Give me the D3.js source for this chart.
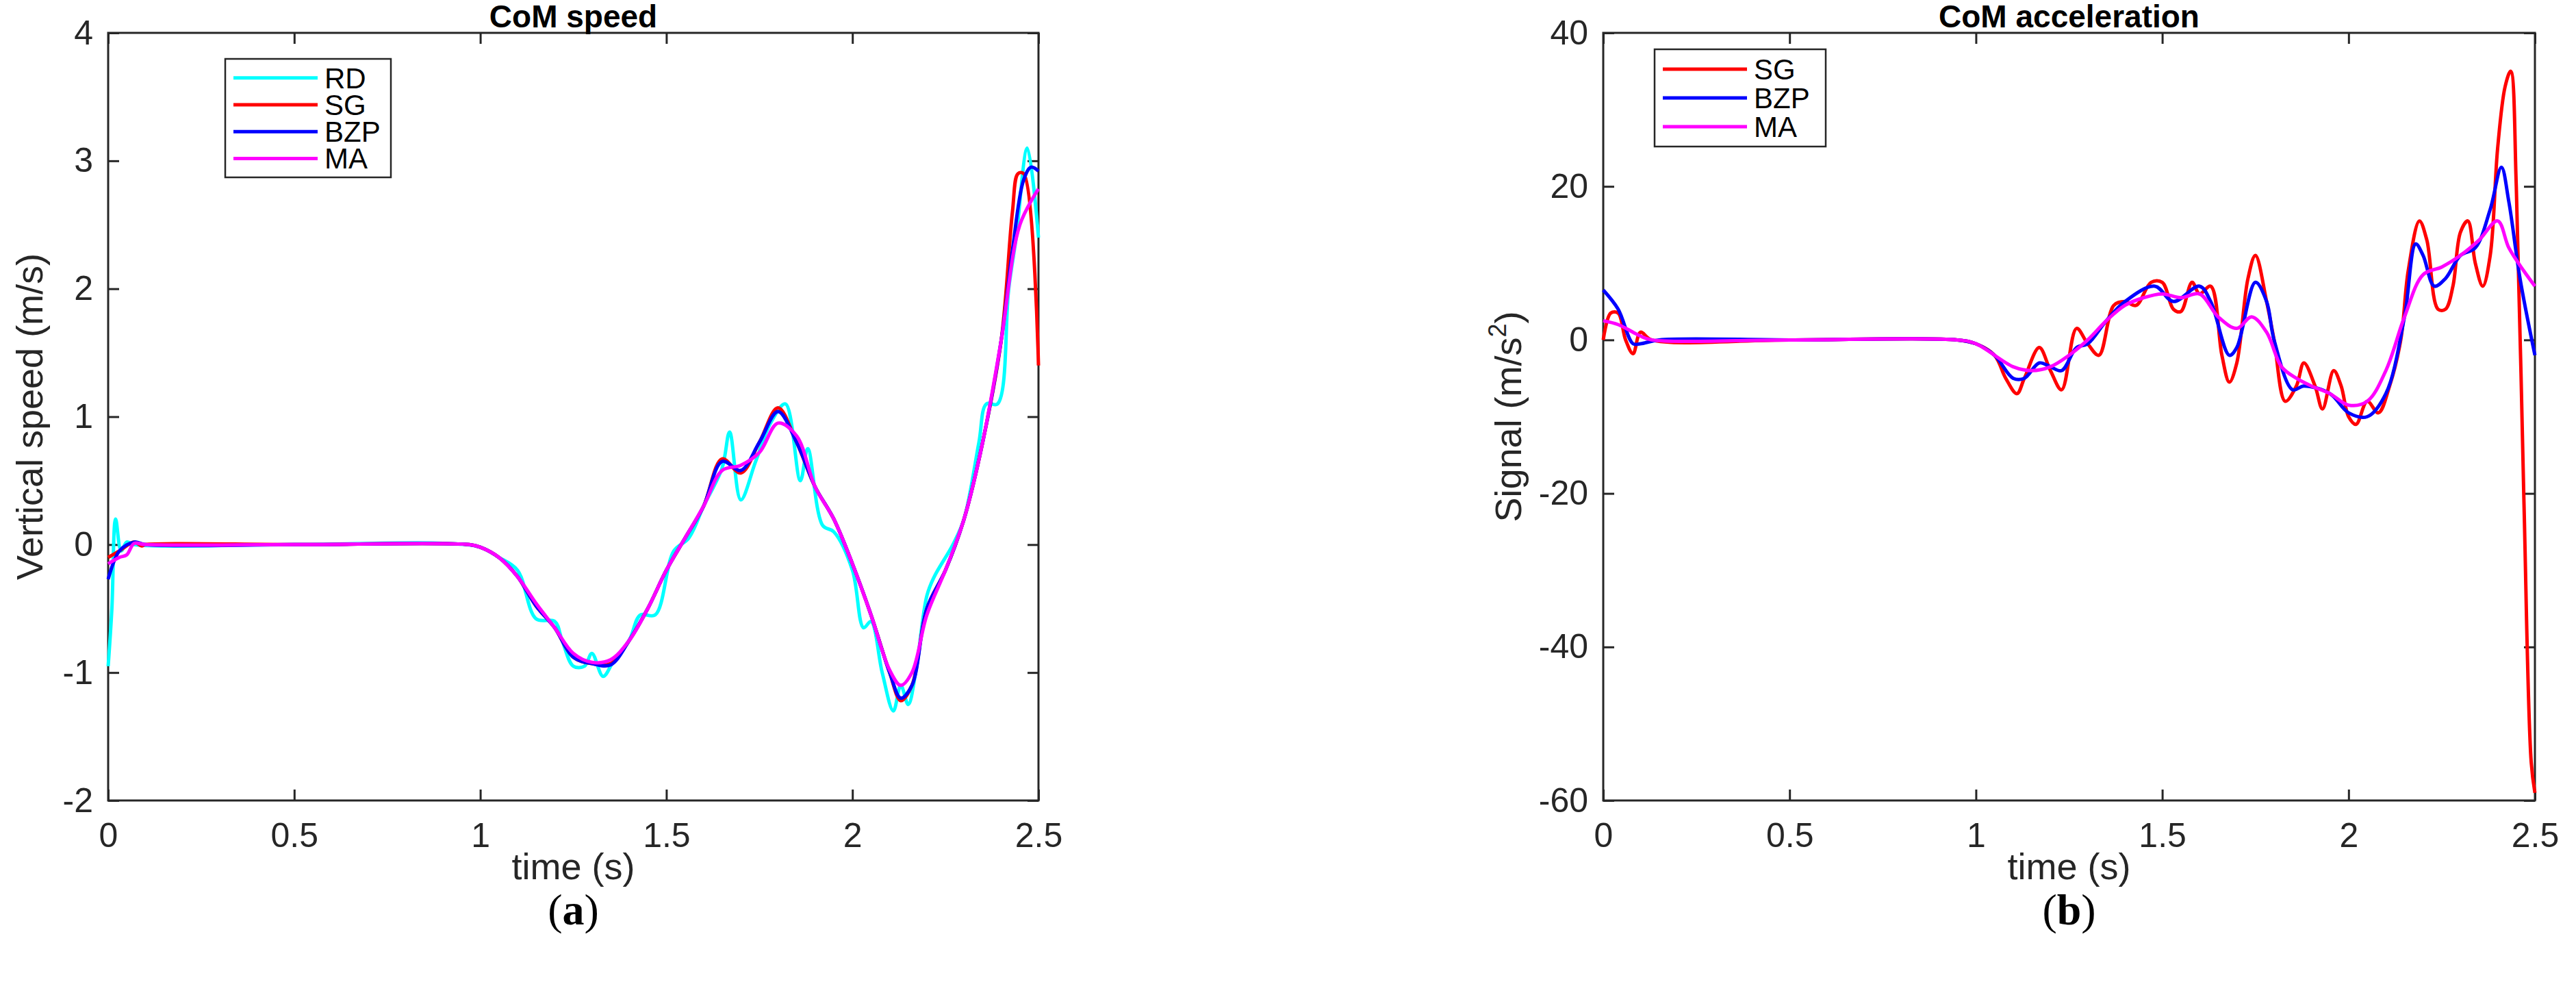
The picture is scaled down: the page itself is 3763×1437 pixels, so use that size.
<!DOCTYPE html>
<html><head><meta charset="utf-8">
<script src="https://cdn.jsdelivr.net/npm/d3@7"></script>
<style>body{margin:0;background:#fff}</style></head>
<body><svg id="c" width="3763" height="1437"></svg>
<script>
// ---- data ----
const speedRD = [[0,-0.95],[0.01,-0.5],[0.02,0.2],[0.035,-0.05],[0.05,0.02],[0.07,0],[0.5,0],[0.9,0.01],[1.0,-0.02],[1.05,-0.1],[1.1,-0.2],[1.15,-0.58],[1.2,-0.6],[1.22,-0.75],[1.25,-0.95],[1.28,-0.95],[1.3,-0.85],[1.33,-1.03],[1.36,-0.9],[1.4,-0.75],[1.43,-0.55],[1.47,-0.55],[1.52,-0.05],[1.56,0.05],[1.6,0.3],[1.65,0.6],[1.67,0.88],[1.7,0.35],[1.74,0.65],[1.78,0.95],[1.82,1.1],[1.86,0.5],[1.88,0.75],[1.92,0.15],[1.95,0.1],[2.0,-0.2],[2.03,-0.65],[2.05,-0.6],[2.08,-1.0],[2.11,-1.3],[2.13,-1.1],[2.15,-1.25],[2.17,-1.0],[2.2,-0.4],[2.22,-0.25],[2.27,0],[2.3,0.2],[2.34,0.8],[2.36,1.1],[2.39,1.1],[2.42,2.0],[2.44,2.4],[2.47,3.1],[2.5,2.4]];
const speedSG = [[0,-0.1],[0.03,-0.05],[0.07,0.02],[0.09,-0.01],[0.1,0],[0.5,0],[0.97,0],[1.0,-0.02],[1.05,-0.1],[1.1,-0.25],[1.15,-0.48],[1.2,-0.65],[1.25,-0.88],[1.3,-0.93],[1.35,-0.93],[1.4,-0.75],[1.45,-0.5],[1.5,-0.2],[1.55,0.05],[1.6,0.3],[1.65,0.67],[1.7,0.56],[1.75,0.8],[1.8,1.07],[1.85,0.8],[1.9,0.45],[1.95,0.2],[2.0,-0.15],[2.05,-0.55],[2.1,-1.0],[2.13,-1.22],[2.16,-1.1],[2.2,-0.5],[2.25,-0.2],[2.3,0.2],[2.35,0.8],[2.4,1.6],[2.43,2.6],[2.445,2.9],[2.46,2.9],[2.5,1.4]];
const speedBZP = [[0,-0.27],[0.03,-0.05],[0.07,0.02],[0.1,0],[0.5,0],[0.97,0],[1.0,-0.02],[1.05,-0.1],[1.1,-0.25],[1.15,-0.48],[1.2,-0.65],[1.25,-0.88],[1.3,-0.93],[1.35,-0.94],[1.4,-0.75],[1.45,-0.5],[1.5,-0.2],[1.55,0.05],[1.6,0.3],[1.65,0.65],[1.7,0.58],[1.75,0.8],[1.8,1.04],[1.85,0.8],[1.9,0.45],[1.95,0.2],[2.0,-0.15],[2.05,-0.55],[2.1,-1.0],[2.13,-1.2],[2.16,-1.1],[2.2,-0.5],[2.25,-0.2],[2.3,0.2],[2.35,0.8],[2.4,1.6],[2.43,2.3],[2.46,2.85],[2.48,2.95],[2.5,2.92]];
const speedMA = [[0,-0.15],[0.03,-0.1],[0.05,-0.08],[0.07,0.01],[0.1,0],[0.5,0],[0.97,0],[1.0,-0.02],[1.05,-0.1],[1.1,-0.25],[1.15,-0.46],[1.2,-0.65],[1.25,-0.85],[1.3,-0.92],[1.35,-0.9],[1.4,-0.75],[1.45,-0.5],[1.5,-0.2],[1.55,0.05],[1.6,0.3],[1.65,0.58],[1.7,0.62],[1.75,0.72],[1.8,0.95],[1.85,0.85],[1.9,0.45],[1.95,0.2],[2.0,-0.15],[2.05,-0.55],[2.1,-0.98],[2.13,-1.1],[2.16,-1.0],[2.2,-0.55],[2.25,-0.2],[2.3,0.2],[2.35,0.8],[2.4,1.6],[2.45,2.5],[2.5,2.78]];

const accSG = [[0,0],[0.02,3.5],[0.04,3.5],[0.06,0],[0.08,-1.8],[0.1,1],[0.13,0],[0.5,0],[0.95,0],[1.0,-0.5],[1.05,-2],[1.08,-5],[1.11,-7],[1.13,-5],[1.17,-1],[1.2,-4],[1.23,-6.5],[1.27,1.5],[1.3,-0.5],[1.33,-2],[1.37,4.5],[1.4,5],[1.43,4.5],[1.47,7.5],[1.5,7.5],[1.53,4],[1.55,3.7],[1.58,7.5],[1.6,6],[1.63,7],[1.66,-2],[1.68,-5.5],[1.7,-3],[1.73,8],[1.75,11],[1.78,5],[1.8,0],[1.83,-8],[1.86,-6],[1.88,-3],[1.91,-6],[1.93,-9],[1.96,-4],[1.98,-6],[2.0,-10],[2.02,-11],[2.05,-8],[2.08,-9.5],[2.11,-6],[2.14,0],[2.16,9],[2.19,15.5],[2.21,13],[2.24,4],[2.26,4],[2.28,7],[2.3,14],[2.32,15.5],[2.34,10],[2.36,7],[2.38,11],[2.4,25],[2.42,33],[2.435,35],[2.45,20],[2.47,-20],[2.49,-55],[2.5,-59]];
const accBZP = [[0,6.5],[0.04,4],[0.08,-0.5],[0.1,-0.5],[0.15,0],[0.5,0],[0.95,0],[1.0,-0.5],[1.05,-2],[1.1,-5],[1.13,-5],[1.17,-3],[1.2,-3.5],[1.23,-4],[1.27,-1],[1.3,-0.5],[1.35,2.5],[1.4,5],[1.48,7],[1.53,5],[1.6,7],[1.63,5],[1.68,-2],[1.7,-1],[1.75,7.5],[1.78,5],[1.8,0],[1.85,-6.5],[1.88,-6],[1.95,-7],[2.0,-9.5],[2.05,-10],[2.1,-7],[2.15,3],[2.18,12.5],[2.2,11],[2.23,7],[2.26,8],[2.3,11],[2.34,12],[2.38,17],[2.41,22.5],[2.43,18],[2.46,8],[2.5,-2]];
const accMA = [[0,2.5],[0.04,2],[0.08,1],[0.1,0.5],[0.13,0],[0.5,0],[0.95,0],[1.0,-0.5],[1.1,-3.5],[1.15,-4],[1.2,-3.5],[1.25,-2],[1.3,0],[1.35,2.5],[1.4,4.5],[1.45,5.5],[1.5,6],[1.55,5.5],[1.6,6],[1.65,3],[1.7,1.5],[1.74,3],[1.78,1],[1.82,-3.5],[1.86,-5],[1.9,-6],[1.95,-7],[2.0,-8.5],[2.05,-8],[2.1,-4],[2.15,3],[2.2,8.5],[2.25,9.5],[2.3,11],[2.35,13],[2.4,15.5],[2.43,12],[2.47,9],[2.5,7]];

const xTicks = [0, 0.5, 1, 1.5, 2, 2.5];
const speedTicks = [-2, -1, 0, 1, 2, 3, 4];
const accTicks = [-60, -40, -20, 0, 20, 40];

const colors = {RD: "#00ffff", SG: "#ff0000", BZP: "#0000ff", MA: "#ff00ff"};

const svg = d3.select("#c");
const font = "'Liberation Sans', Arial, sans-serif";
const fmt = d => String(d); // plain hyphen minus, like MATLAB

function panel(opt) {
  const {left, right, top, bottom} = opt;
  const x = d3.scaleLinear().domain([0, 2.5]).range([left, right]);
  const y = d3.scaleLinear().domain(opt.yDomain).range([bottom, top]);
  const g = svg.append("g");
  const tl = 16;

  g.append("rect").attr("x", left).attr("y", top).attr("width", right - left).attr("height", bottom - top)
    .attr("fill", "none").attr("stroke", "#262626").attr("stroke-width", 3);

  const ax = g.append("g").attr("transform", `translate(0,${bottom})`)
    .call(d3.axisBottom(x).tickValues(xTicks).tickSize(-tl).tickPadding(32).tickFormat(fmt));
  const axT = g.append("g").attr("transform", `translate(0,${top})`)
    .call(d3.axisTop(x).tickValues(xTicks).tickSize(-tl).tickFormat(""));
  const ay = g.append("g").attr("transform", `translate(${left},0)`)
    .call(d3.axisLeft(y).tickValues(opt.yTicks).tickSize(-tl).tickPadding(22).tickFormat(fmt));
  const ayR = g.append("g").attr("transform", `translate(${right},0)`)
    .call(d3.axisRight(y).tickValues(opt.yTicks).tickSize(-tl).tickFormat(""));
  [ax, axT, ay, ayR].forEach(a => {
    a.select(".domain").remove();
    a.selectAll("line").attr("stroke", "#262626").attr("stroke-width", 3);
    a.selectAll("text").attr("font-family", font).attr("font-size", 50).attr("fill", "#262626");
  });

  const line = d3.line().x(d => x(d[0])).y(d => y(d[1])).curve(d3.curveCatmullRom);
  opt.series.forEach(s => {
    g.append("path").datum(s.data).attr("d", line).attr("fill", "none")
      .attr("stroke", colors[s.name]).attr("stroke-width", 5).attr("stroke-linejoin", "round");
  });

  g.append("text").attr("x", (left + right) / 2).attr("y", 40).attr("text-anchor", "middle")
    .attr("font-family", font).attr("font-weight", "bold").attr("font-size", 46).text(opt.title);
  g.append("text").attr("x", (left + right) / 2).attr("y", 1284).attr("text-anchor", "middle")
    .attr("font-family", font).attr("font-size", 54).attr("fill", "#262626").text("time (s)");
  const yl = g.append("text").attr("transform", `translate(${opt.ylX},${(top + bottom) / 2}) rotate(-90)`)
    .attr("text-anchor", "middle").attr("font-family", font).attr("font-size", 54).attr("fill", "#262626");
  opt.ylabel(yl);
  g.append("text").attr("x", (left + right) / 2).attr("y", 1350).attr("text-anchor", "middle")
    .attr("font-family", "'Liberation Serif', 'Times New Roman', serif").attr("font-size", 64)
    .html(`(<tspan font-weight="bold">${opt.tag}</tspan>)`);

  const L = opt.legend;
  g.append("rect").attr("x", L.x).attr("y", L.y).attr("width", L.w).attr("height", L.h)
    .attr("fill", "#fff").attr("stroke", "#262626").attr("stroke-width", 2.5);
  const rowH = (L.h - 16) / opt.series.length;
  opt.series.forEach((s, i) => {
    const cy = L.y + 8 + rowH * (i + 0.5);
    g.append("line").attr("x1", L.x + 12).attr("x2", L.x + 135).attr("y1", cy).attr("y2", cy)
      .attr("stroke", colors[s.name]).attr("stroke-width", 5);
    g.append("text").attr("x", L.x + 145).attr("y", cy + 15).attr("font-family", font)
      .attr("font-size", 42).attr("fill", "#000").text(s.name);
  });
}

panel({
  left: 158, right: 1517, top: 48, bottom: 1169,
  yDomain: [-2, 4], yTicks: speedTicks, title: "CoM speed", tag: "a", ylX: 62,
  ylabel: t => t.text("Vertical speed (m/s)"),
  legend: {x: 329, y: 86, w: 242, h: 173},
  series: [{name: "RD", data: speedRD}, {name: "SG", data: speedSG}, {name: "BZP", data: speedBZP}, {name: "MA", data: speedMA}]
});

panel({
  left: 2342, right: 3703, top: 48, bottom: 1169,
  yDomain: [-60, 40], yTicks: accTicks, title: "CoM acceleration", tag: "b", ylX: 2222,
  ylabel: t => t.html('Signal (m/s<tspan dy="-22" font-size="36">2</tspan><tspan dy="22">)</tspan>'),
  legend: {x: 2417, y: 72, w: 250, h: 142},
  series: [{name: "SG", data: accSG}, {name: "BZP", data: accBZP}, {name: "MA", data: accMA}]
});
</script></body></html>
